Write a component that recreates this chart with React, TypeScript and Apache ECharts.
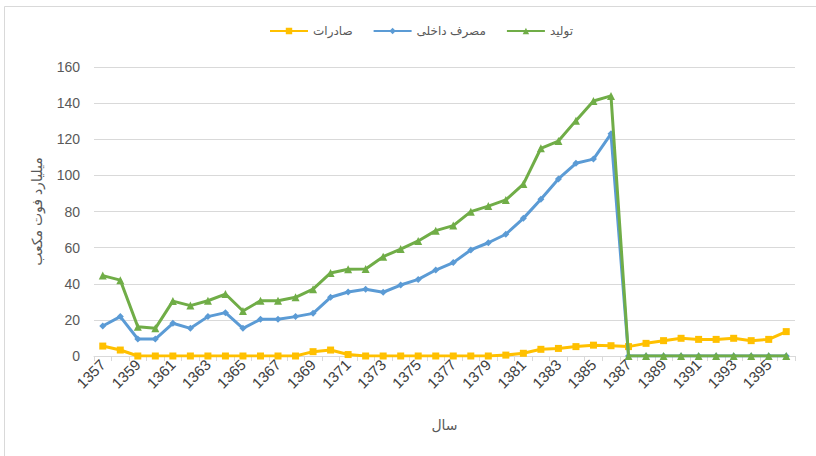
import React, { useEffect, useRef } from "react";
import * as echarts from "echarts";

const years = [
  "1357", "1358", "1359", "1360", "1361", "1362", "1363", "1364", "1365", "1366",
  "1367", "1368", "1369", "1370", "1371", "1372", "1373", "1374", "1375", "1376",
  "1377", "1378", "1379", "1380", "1381", "1382", "1383", "1384", "1385", "1386",
  "1387", "1388", "1389", "1390", "1391", "1392", "1393", "1394", "1395", "1396",
];

const exportsData = [
  5.5, 3.3, 0, 0, 0, 0, 0, 0, 0, 0,
  0, 0, 2.4, 3.3, 0.8, 0, 0, 0, 0, 0,
  0, 0, 0, 0.5, 1.5, 3.7, 4.2, 5.2, 6, 5.7,
  5.2, 7, 8.5, 9.8, 9.2, 9.2, 9.8, 8.5, 9.2, 13.5,
];

const domesticData = [
  16.6, 21.8, 9.4, 9.4, 18.1, 15.3, 21.8, 24, 15.3, 20.3,
  20.3, 21.8, 23.6, 32.5, 35.4, 36.9, 35.3, 39.3, 42.4, 47.6,
  51.7, 58.7, 62.7, 67.4, 76.2, 86.8, 98, 106.7, 109, 123,
  0, 0, 0, 0, 0, 0, 0, 0, 0, 0,
];

const productionData = [
  44.5, 42, 16.2, 15.3, 30.4, 27.9, 30.6, 34.3, 24.9, 30.6,
  30.6, 32.5, 37, 46, 48, 48.2, 55, 59.2, 63.7, 69.4,
  72.2, 79.9, 83, 86.4, 95.2, 115, 119, 130.3, 141.2, 144,
  0, 0, 0, 0, 0, 0, 0, 0, 0, 0,
];

const NAME_EXPORTS = "صادرات";
const NAME_DOMESTIC = "مصرف داخلی";
const NAME_PRODUCTION = "تولید";

export default function App() {
  const ref = useRef<HTMLDivElement>(null);

  useEffect(() => {
    document.body.style.margin = "0";
    if (!ref.current) return;
    const chart = echarts.init(ref.current, undefined, { renderer: "svg" });
    const font = "'Liberation Sans', 'DejaVu Sans', sans-serif";
    const textColor = "#595959";
    chart.setOption({
      animation: false,
      backgroundColor: "#ffffff",
      textStyle: { fontFamily: font },
      graphic: [
        {
          type: "rect",
          shape: { x: 4.5, y: 6.5, width: 900, height: 600 },
          style: { fill: "none", stroke: "#d9d9d9", lineWidth: 1 },
          silent: true,
          z: -10,
        },
      ],
      legend: {
        top: 20,
        left: 264,
        itemWidth: 38,
        itemHeight: 8,
        itemGap: 20,
        data: [NAME_EXPORTS, NAME_DOMESTIC, NAME_PRODUCTION],
        textStyle: { color: textColor, fontSize: 12, fontFamily: font },
      },
      grid: { left: 94, right: 21, top: 67, bottom: 100, containLabel: false },
      xAxis: {
        type: "category",
        data: years,
        boundaryGap: true,
        name: "سال",
        nameLocation: "middle",
        nameGap: 62,
        nameTextStyle: { color: textColor, fontSize: 14, fontFamily: font },
        axisLine: { show: true, lineStyle: { color: "#d9d9d9", width: 1 } },
        axisTick: { show: true, interval: 0, length: 5, lineStyle: { color: "#d9d9d9" } },
        axisLabel: {
          interval: 1,
          rotate: 45,
          color: "#404040",
          fontSize: 15,
          margin: 6,
          fontFamily: font,
        },
        splitLine: { show: false },
      },
      yAxis: {
        type: "value",
        min: 0,
        max: 160,
        interval: 20,
        name: "میلیارد فوت مکعب",
        nameLocation: "middle",
        nameRotate: 90,
        nameGap: 50,
        nameTextStyle: { color: textColor, fontSize: 14, fontFamily: font },
        axisLine: { show: false },
        axisTick: { show: false },
        axisLabel: { color: textColor, fontSize: 14, margin: 14, fontFamily: font },
        splitLine: { show: true, lineStyle: { color: "#d9d9d9", width: 1 } },
      },
      series: [
        {
          name: NAME_EXPORTS,
          type: "line",
          data: exportsData,
          symbol: "rect",
          symbolSize: 7,
          lineStyle: { color: "#FFC000", width: 3 },
          itemStyle: { color: "#FFC000" },
          z: 2,
        },
        {
          name: NAME_DOMESTIC,
          type: "line",
          data: domesticData,
          symbol: "diamond",
          symbolSize: 7,
          lineStyle: { color: "#5B9BD5", width: 3 },
          itemStyle: { color: "#5B9BD5" },
          z: 3,
        },
        {
          name: NAME_PRODUCTION,
          type: "line",
          data: productionData,
          symbol: "triangle",
          symbolSize: 8,
          lineStyle: { color: "#70AD47", width: 3 },
          itemStyle: { color: "#70AD47" },
          z: 4,
        },
      ],
    });
    return () => chart.dispose();
  }, []);

  return <div ref={ref} style={{ width: 816, height: 456 }} />;
}
